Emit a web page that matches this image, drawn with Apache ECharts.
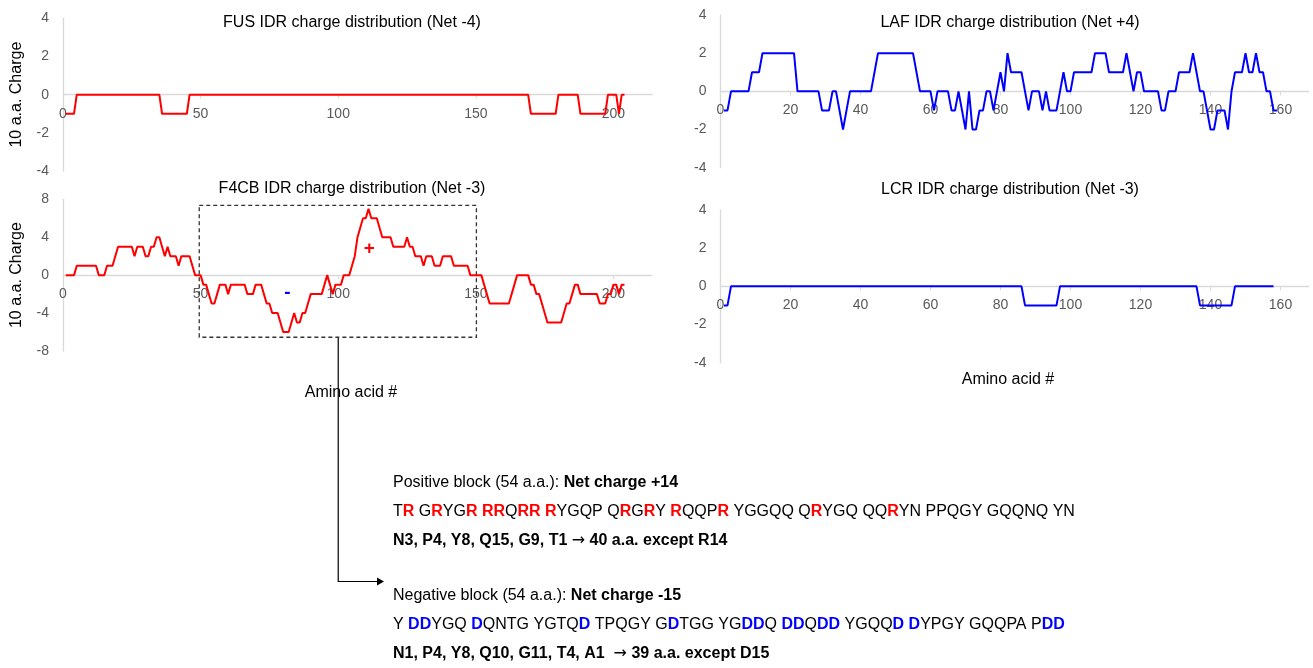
<!DOCTYPE html>
<html>
<head>
<meta charset="utf-8">
<title>IDR charge distribution</title>
<script src="https://cdn.jsdelivr.net/npm/echarts@6/dist/echarts.min.js"></script>
<style>
  html, body { margin: 0; padding: 0; background: #ffffff; }
  #chart { width: 1313px; height: 668px; }
</style>
</head>
<body>
<div id="chart"></div>
<script>
// 10 a.a. sliding-window net charge, one value per residue (residue 1..N)
const fusCharge = [
  -1,-1,-1,-1, 0, 0, 0, 0, 0, 0,  0, 0, 0, 0, 0, 0, 0, 0, 0, 0,
   0, 0, 0, 0, 0, 0, 0, 0, 0, 0,  0, 0, 0, 0, 0,-1,-1,-1,-1,-1,
  -1,-1,-1,-1,-1, 0, 0, 0, 0, 0,  0, 0, 0, 0, 0, 0, 0, 0, 0, 0,
   0, 0, 0, 0, 0, 0, 0, 0, 0, 0,  0, 0, 0, 0, 0, 0, 0, 0, 0, 0,
   0, 0, 0, 0, 0, 0, 0, 0, 0, 0,  0, 0, 0, 0, 0, 0, 0, 0, 0, 0,
   0, 0, 0, 0, 0, 0, 0, 0, 0, 0,  0, 0, 0, 0, 0, 0, 0, 0, 0, 0,
   0, 0, 0, 0, 0, 0, 0, 0, 0, 0,  0, 0, 0, 0, 0, 0, 0, 0, 0, 0,
   0, 0, 0, 0, 0, 0, 0, 0, 0, 0,  0, 0, 0, 0, 0, 0, 0, 0, 0, 0,
   0, 0, 0, 0, 0, 0, 0, 0, 0,-1, -1,-1,-1,-1,-1,-1,-1,-1,-1, 0,
   0, 0, 0, 0, 0, 0, 0,-1,-1,-1, -1,-1,-1,-1,-1,-1,-1, 0, 0, 0,
   0,-1, 0, 0
];

const f4cbCharge = [
   0, 0, 0, 0, 1, 1, 1, 1, 1, 1,  1, 1, 0, 0, 0, 1, 1, 1, 2, 3,
   3, 3, 3, 3, 3, 2, 3, 3, 3, 2,  2, 3, 3, 4, 4, 3, 2, 3, 2, 2,
   2, 1, 2, 2, 2, 2, 1, 0, 0, 0, -1,-1,-2,-3,-3,-2,-1,-1,-1,-2,
  -1,-1,-1,-1,-1,-1,-2,-2,-2,-1, -1,-1,-2,-3,-3,-4,-4,-4,-5,-6,
  -6,-6,-5,-4,-5,-5,-4,-4,-3,-2, -2,-2,-2,-2,-1, 0,-1,-2,-1,-1,
  -1, 0, 0, 0, 1, 2, 4, 5, 6, 6,  7, 6, 6, 6, 5, 4, 4, 4, 4, 3,
   3, 3, 3, 3, 4, 3, 3, 2, 2, 2,  1, 2, 2, 2, 1, 1, 1, 2, 2, 2,
   2, 1, 1, 1, 1, 1, 1, 0, 0, 0,  0, 0,-1,-2,-3,-3,-3,-3,-3,-3,
  -3,-3,-2,-1, 0, 0, 0, 0, 0,-1, -1,-2,-2,-3,-4,-5,-5,-5,-5,-5,
  -5,-4,-3,-3,-2,-1,-1,-2,-2,-2, -2,-2,-2,-2,-3,-3,-3,-2,-2,-1,
  -1,-2,-1,-1
];

const lafCharge = [
  -1,-1, 0, 0, 0, 0, 0, 0, 1, 1,  1, 2, 2, 2, 2, 2, 2, 2, 2, 2,
   2, 0, 0, 0, 0, 0, 0, 0,-1,-1, -1, 0, 0,-1,-2,-1, 0, 0, 0, 0,
   0, 0, 0, 1, 2, 2, 2, 2, 2, 2,  2, 2, 2, 2, 2, 1, 0, 0, 0, 0,
  -1, 0, 0, 0, 0,-1,-1, 0,-1,-2,  0,-2,-2,-1,-1, 0, 0,-1, 0, 1,
   0, 2, 1, 1, 1, 1, 0,-1, 0, 0,  0,-1, 0,-1,-1,-1, 0, 1, 0, 0,
   1, 1, 1, 1, 1, 1, 2, 2, 2, 2,  1, 1, 1, 1, 1, 2, 1, 0, 1, 1,
   0, 0, 0, 0, 0,-1,-1, 0, 0, 0,  1, 1, 1, 1, 2, 1, 0, 0,-1,-2,
  -2,-1,-1,-1,-2, 0, 1, 1, 1, 2,  1, 1, 2, 1, 1, 0, 0,-1,-1
];

const lcrCharge = [
  -1,-1, 0, 0, 0, 0, 0, 0, 0, 0,  0, 0, 0, 0, 0, 0, 0, 0, 0, 0,
   0, 0, 0, 0, 0, 0, 0, 0, 0, 0,  0, 0, 0, 0, 0, 0, 0, 0, 0, 0,
   0, 0, 0, 0, 0, 0, 0, 0, 0, 0,  0, 0, 0, 0, 0, 0, 0, 0, 0, 0,
   0, 0, 0, 0, 0, 0, 0, 0, 0, 0,  0, 0, 0, 0, 0, 0, 0, 0, 0, 0,
   0, 0, 0, 0, 0, 0,-1,-1,-1,-1, -1,-1,-1,-1,-1,-1, 0, 0, 0, 0,
   0, 0, 0, 0, 0, 0, 0, 0, 0, 0,  0, 0, 0, 0, 0, 0, 0, 0, 0, 0,
   0, 0, 0, 0, 0, 0, 0, 0, 0, 0,  0, 0, 0, 0, 0, 0,-1,-1,-1,-1,
  -1,-1,-1,-1,-1,-1, 0, 0, 0, 0,  0, 0, 0, 0, 0, 0, 0, 0
];

const panelTitles = [
  'FUS IDR charge distribution (Net -4)',
  'F4CB IDR charge distribution (Net -3)',
  'LAF IDR charge distribution (Net +4)',
  'LCR IDR charge distribution (Net -3)'
];
const xTicksLong = [0, 50, 100, 150, 200];
const xTicksShort = [0, 20, 40, 60, 80, 100, 120, 140, 160];
const yAxisTitle = '10 a.a. Charge';
const xAxisTitle = 'Amino acid #';

// F4CB blocks highlighted in the second panel (residue ranges, charge limits)
const blockRange = [49.5, 150.2];
const blockChargeRange = [7.35, -6.55];
const positiveMark = { residue: 111.3, charge: 2.75, text: '+' };
const negativeMark = { residue: 81.5, charge: -1.85, text: '-' };

// Sequence notes
const posHeader = ['Positive block (54 a.a.): ', 'Net charge +14'];
const posSequence = 'TR GRYGR RRQRR RYGQP QRGRY RQQPR YGGQQ QRYGQ QQRYN PPQGY GQQNQ YN';
const posSummary = ['N3, P4, Y8, Q15, G9, T1 ', '\u2192', ' 40 a.a. except R14'];
const negHeader = ['Negative block (54 a.a.): ', 'Net charge -15'];
const negSequence = 'Y DDYGQ DQNTG YGTQD TPQGY GDTGG YGDDQ DDQDD YGQQD DYPGY GQQPA PDD';
const negSummary = ['N1, P4, Y8, Q10, G11, T4, A1  ', '\u2192', ' 39 a.a. except D15'];

const FONT = '"Liberation Sans", Arial, Helvetica, sans-serif';
const AXIS_GRAY = '#D9D9D9';
const LABEL_GRAY = '#595959';
const RED = '#FF0000';
const BLUE = '#0000FF';

const toPoints = arr => arr.map((v, i) => [i + 1, v]);

const grids = [
  { left: 63,    top: 18.3,  width: 589, height: 152.7 }, // FUS
  { left: 63,    top: 199.3, width: 589, height: 151.7 }, // F4CB
  { left: 720.5, top: 15,    width: 588, height: 152.7 }, // LAF
  { left: 720.5, top: 210,   width: 588, height: 152.7 }  // LCR
];

// Tick labels sit just under the zero line, which is mid-height in every panel
function makeXAxis(gridIndex, max, step, ticks) {
  const toZero = grids[gridIndex].height / 2;
  return {
    type: 'value', gridIndex, min: 0, max, interval: step,
    axisLine: { show: true, onZero: true, lineStyle: { color: AXIS_GRAY, width: 1.3 } },
    axisTick: { show: true, length: 4, customValues: ticks, lineStyle: { color: AXIS_GRAY } },
    axisLabel: {
      customValues: ticks, color: LABEL_GRAY, fontSize: 14, fontFamily: FONT,
      margin: 12 - toZero, hideOverlap: false,
      formatter: v => (ticks.indexOf(v) >= 0 ? String(v) : '')
    },
    splitLine: { show: false }
  };
}

function makeYAxis(gridIndex, lim, step, withName) {
  const ax = {
    type: 'value', gridIndex, min: -lim, max: lim, interval: step,
    axisLine: { show: true, lineStyle: { color: AXIS_GRAY, width: 1.3 } },
    axisTick: { show: false },
    axisLabel: { color: LABEL_GRAY, fontSize: 14, fontFamily: FONT, margin: 14 },
    splitLine: { show: false }
  };
  if (withName) {
    Object.assign(ax, {
      name: yAxisTitle, nameLocation: 'middle', nameGap: 38,
      nameTextStyle: { color: '#000', fontSize: 16, fontFamily: FONT }
    });
  }
  return ax;
}

function lineSeries(idx, data, color) {
  return {
    type: 'line', xAxisIndex: idx, yAxisIndex: idx, data: toPoints(data),
    showSymbol: false, symbol: 'none', smooth: false, silent: true,
    lineStyle: { color, width: 2 }, itemStyle: { color }
  };
}

const f4cbSeries = lineSeries(1, f4cbCharge, RED);
f4cbSeries.markArea = {
  silent: true,
  label: { show: false },
  itemStyle: { color: 'rgba(0,0,0,0)', borderColor: '#333333', borderWidth: 1.3, borderType: [4, 3] },
  data: [[
    { coord: [blockRange[0], blockChargeRange[0]] },
    { coord: [blockRange[1], blockChargeRange[1]] }
  ]]
};
f4cbSeries.markPoint = {
  silent: true, symbol: 'circle', symbolSize: 0,
  label: { show: true, position: 'inside', fontFamily: FONT, fontWeight: 'bold' },
  data: [
    { coord: [positiveMark.residue, positiveMark.charge],
      label: { formatter: positiveMark.text, color: RED, fontSize: 19 } },
    { coord: [negativeMark.residue, negativeMark.charge],
      label: { formatter: negativeMark.text, color: BLUE, fontSize: 19 } }
  ]
};

function textEl(x, y, text, opts) {
  return {
    type: 'text', x, y, silent: true,
    style: Object.assign({
      text, fill: '#000', fontSize: 16, fontFamily: FONT,
      align: 'left', verticalAlign: 'middle',
      textAlign: 'left', textVerticalAlign: 'middle'
    }, opts || {})
  };
}

function richSequence(seq, marked) {
  let out = '';
  let run = '';
  for (const ch of seq) {
    if (ch === marked) { run += ch; }
    else {
      if (run) { out += '{m|' + run + '}'; run = ''; }
      out += ch;
    }
  }
  if (run) out += '{m|' + run + '}';
  return out;
}

const boldRich = { b: { fontWeight: 'bold', fontSize: 16, fontFamily: FONT, fill: '#000' } };
const markRich = color => ({ m: { fontWeight: 'bold', fontSize: 16, fontFamily: FONT, fill: color } });
const summaryRich = {
  b: { fontWeight: 'bold', fontSize: 16, fontFamily: FONT, fill: '#000' },
  a: { fontWeight: 'normal', fontSize: 16, fontFamily: '"DejaVu Sans", sans-serif', fill: '#000' }
};
const summaryText = parts => '{b|' + parts[0] + '}{a|' + parts[1] + '}{b|' + parts[2] + '}';

const chart = echarts.init(document.getElementById('chart'), null, { renderer: 'canvas' });

chart.setOption({
  backgroundColor: '#ffffff',
  animation: false,
  grid: grids,
  xAxis: [
    makeXAxis(0, 214, 50, xTicksLong),
    makeXAxis(1, 214, 50, xTicksLong),
    makeXAxis(2, 168, 20, xTicksShort),
    makeXAxis(3, 168, 20, xTicksShort)
  ],
  yAxis: [
    makeYAxis(0, 4, 2, true),
    makeYAxis(1, 8, 4, true),
    makeYAxis(2, 4, 2, false),
    makeYAxis(3, 4, 2, false)
  ],
  series: [
    lineSeries(0, fusCharge, RED),
    f4cbSeries,
    lineSeries(2, lafCharge, BLUE),
    lineSeries(3, lcrCharge, BLUE)
  ]
});

// Connector from the bottom of the F4CB block box down to the negative-block notes
const boxFoot = chart.convertToPixel({ gridIndex: 1 }, [100, blockChargeRange[1]]);
const elbowY = 581.5;
const arrowTip = 384;

const centerOpts = { align: 'center', textAlign: 'center' };

chart.setOption({
  graphic: [
    textEl(352, 23, panelTitles[0], centerOpts),
    textEl(352, 188.5, panelTitles[1], centerOpts),
    textEl(1010, 23, panelTitles[2], centerOpts),
    textEl(1010, 189.5, panelTitles[3], centerOpts),
    textEl(351, 393, xAxisTitle, centerOpts),
    textEl(1008, 380, xAxisTitle, centerOpts),
    {
      type: 'polyline', silent: true,
      shape: { points: [[boxFoot[0], boxFoot[1]], [boxFoot[0], elbowY], [arrowTip - 6, elbowY]] },
      style: { stroke: '#000', lineWidth: 1.2, fill: null }
    },
    {
      type: 'polygon', silent: true,
      shape: { points: [[arrowTip - 7, elbowY - 4], [arrowTip, elbowY], [arrowTip - 7, elbowY + 4]] },
      style: { fill: '#000' }
    },
    textEl(393, 482.5, posHeader[0] + '{b|' + posHeader[1] + '}', { rich: boldRich }),
    textEl(393, 511.5, richSequence(posSequence, 'R'), { rich: markRich(RED) }),
    textEl(393, 541, summaryText(posSummary), { rich: summaryRich }),
    textEl(393, 596, negHeader[0] + '{b|' + negHeader[1] + '}', { rich: boldRich }),
    textEl(393, 625, richSequence(negSequence, 'D'), { rich: markRich(BLUE) }),
    textEl(393, 653.5, summaryText(negSummary), { rich: summaryRich })
  ]
});
</script>
</body>
</html>
